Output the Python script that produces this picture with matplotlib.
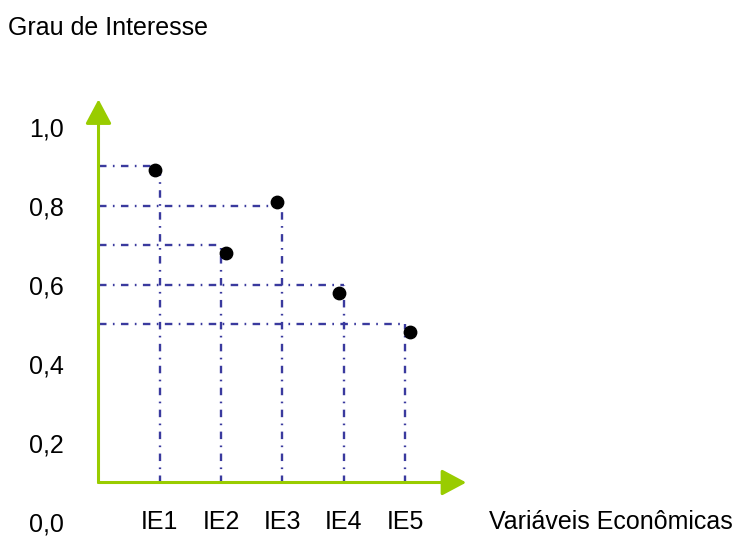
import numpy as np
import matplotlib
matplotlib.use('Agg')
import matplotlib.pyplot as plt

plt.rcParams['font.family'] = ['Liberation Sans', 'DejaVu Sans']
plt.rcParams['lines.scale_dashes'] = False

# data
categorias = ['IE1', 'IE2', 'IE3', 'IE4', 'IE5']
niveis = [0.9, 0.7, 0.8, 0.6, 0.5]          # dash-dot guide levels
pontos_x = [0.92, 2.08, 2.92, 3.92, 5.09]    # dots sit a bit off the corners
pontos_y = [0.89, 0.68, 0.81, 0.58, 0.48]
yticks = [0.0, 0.2, 0.4, 0.6, 0.8, 1.0]
ytick_labels = ['0,0', '0,2', '0,4', '0,6', '0,8', '1,0']

verde = '#99cc00'
azul = '#3a3a9e'
fs = 18

fig = plt.figure(figsize=(7.39, 5.36), dpi=100)
ax = fig.add_axes([0.1333, 0.0261, 0.5059, 0.8107])
ax.set_xlim(0, 6.1)
ax.set_ylim(0, 1.1)
for s in ax.spines.values():
    s.set_visible(False)

x = np.arange(1, len(categorias) + 1)
base = 0.1  # where the green x axis crosses

dash = (0, (5.4, 4.6, 1.2, 4.6))
for xi, lv in zip(x, niveis):
    ax.plot([0, xi], [lv, lv], color=azul, lw=1.7, linestyle=dash)
    ax.plot([xi, xi], [base, lv], color=azul, lw=1.7, linestyle=dash)

ax.scatter(pontos_x, pontos_y, s=80, color='black', zorder=5)

# green axes with arrows
ap = dict(arrowstyle='-|>,head_length=0.75,head_width=0.4', color=verde, lw=2.2,
          shrinkA=0, shrinkB=0, mutation_scale=20)
ax.annotate('', xy=(0, 1.07), xytext=(0, base), arrowprops=ap)
ax.annotate('', xy=(6.0, base), xytext=(0, base), arrowprops=ap)

ax.set_yticks(yticks)
ax.set_yticklabels(ytick_labels, fontsize=fs)
ax.tick_params(axis='y', length=0, pad=25)
ax.set_xticks(x)
ax.set_xticklabels(categorias, fontsize=fs)
ax.tick_params(axis='x', length=0, pad=0)
plt.setp(ax.get_xticklabels(), va='center')

fig.text(8 / 739, 1 - 28 / 536, 'Grau de Interesse', fontsize=fs, va='center', ha='left')
fig.text(489 / 739, (536 - 522) / 536, 'Variáveis Econômicas', fontsize=fs, va='center', ha='left')

fig.savefig('out.png', dpi=100)
